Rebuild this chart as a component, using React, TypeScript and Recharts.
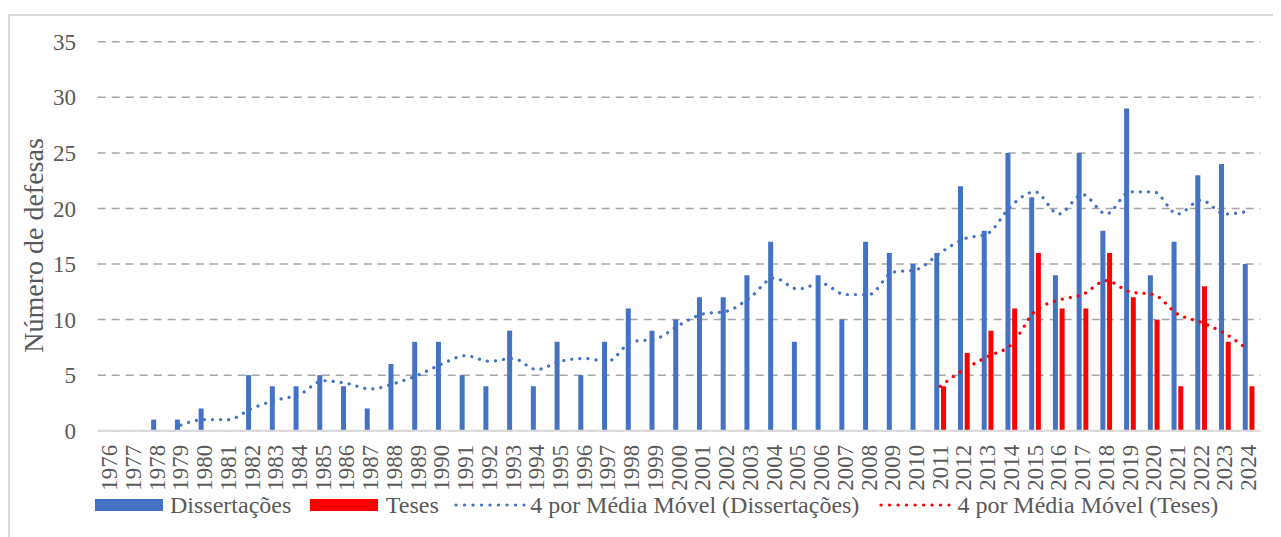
import React from 'react';
import { ComposedChart, Bar, Line, XAxis, YAxis, CartesianGrid, Label } from 'recharts';

const years = [
  '1976', '1977', '1978', '1979', '1980', '1981', '1982', '1983', '1984', '1985',
  '1986', '1987', '1988', '1989', '1990', '1991', '1992', '1993', '1994', '1995',
  '1996', '1997', '1998', '1999', '2000', '2001', '2002', '2003', '2004', '2005',
  '2006', '2007', '2008', '2009', '2010', '2011', '2012', '2013', '2014', '2015',
  '2016', '2017', '2018', '2019', '2020', '2021', '2022', '2023', '2024',
];

const dissertacoes = [
  0, 0, 1, 1, 2, 0, 5, 4, 4, 5,
  4, 2, 6, 8, 8, 5, 4, 9, 4, 8,
  5, 8, 11, 9, 10, 12, 12, 14, 17, 8,
  14, 10, 17, 16, 15, 16, 22, 18, 25, 21,
  14, 25, 18, 29, 14, 17, 23, 24, 15,
];

const teses = [
  null, null, null, null, null, null, null, null, null, null,
  null, null, null, null, null, null, null, null, null, null,
  null, null, null, null, null, null, null, null, null, null,
  null, null, null, null, null, 4, 7, 9, 11, 16,
  11, 11, 16, 12, 10, 4, 13, 8, 4,
];

const mediaMovelDissertacoes = [
  null, null, null, 0.5, 1, 1, 2, 2.75, 3.25, 4.5,
  4.25, 3.75, 4.25, 5, 6, 6.75, 6.25, 6.5, 5.5, 6.25,
  6.5, 6.25, 8, 8.25, 9.5, 10.5, 10.75, 12, 13.75, 12.75,
  13.25, 12.25, 12.25, 14.25, 14.5, 16, 17.25, 17.75, 20.25, 21.5,
  19.5, 21.25, 19.5, 21.5, 21.5, 19.5, 20.75, 19.5, 19.75,
];

const mediaMovelTeses = [
  null, null, null, null, null, null, null, null, null, null,
  null, null, null, null, null, null, null, null, null, null,
  null, null, null, null, null, null, null, null, null, null,
  null, null, null, null, null, 4, 5.5, 6.67, 7.75, 10.75,
  11.75, 12.25, 13.5, 12.5, 12.25, 10.5, 9.75, 8.75, 7.25,
];

const yTicks = [0, 5, 10, 15, 20, 25, 30, 35];

const seriesNames = [
  'Dissertações',
  'Teses',
  '4 por Média Móvel (Dissertações)',
  '4 por Média Móvel (Teses)',
];

const BLUE = '#4472C4';
const RED = '#FF0000';
const TEXT = '#595959';
const FONT = "'Liberation Serif', 'Times New Roman', serif";

const data = years.map((y, i) => ({
  year: y,
  diss: dissertacoes[i],
  teses: teses[i],
  mmDiss: mediaMovelDissertacoes[i],
  mmTeses: mediaMovelTeses[i],
}));

const XTick = (props: any) => {
  const { x, y, payload } = props;
  return (
    <text
      x={x}
      y={y}
      transform={`rotate(-90, ${x}, ${y})`}
      textAnchor="end"
      dy="0.33em"
      fill={TEXT}
      fontSize={23}
      fontFamily={FONT}
    >
      {payload.value}
    </text>
  );
};

const YTick = (props: any) => {
  const { x, y, payload } = props;
  return (
    <text x={x} y={y} textAnchor="end" dy="0.35em" fill={TEXT} fontSize={23} fontFamily={FONT}>
      {payload.value}
    </text>
  );
};

const Swatch = ({ color }: { color: string }) => (
  <div style={{ width: 68, height: 12, background: color, marginTop: 6 }} />
);

const DotSwatch = ({ color }: { color: string }) => (
  <svg width={72} height={24} style={{ display: 'block' }}>
    <line
      x1={2}
      y1={12}
      x2={70}
      y2={12}
      stroke={color}
      strokeWidth={3.2}
      strokeLinecap="round"
      strokeDasharray="0.1 8.4"
    />
  </svg>
);

const legendText: React.CSSProperties = {
  fontFamily: FONT,
  fontSize: 24,
  lineHeight: '24px',
  color: TEXT,
  whiteSpace: 'nowrap',
};

export default function App() {
  return (
    <div style={{ position: 'relative', width: 1273, height: 529, overflow: 'hidden', background: '#fff' }}>
      <div
        style={{
          position: 'absolute',
          left: 0,
          top: 6,
          width: 1400,
          height: 700,
          border: '2px solid #d9d9d9',
          boxSizing: 'border-box',
        }}
      />
      <div style={{ position: 'absolute', left: 0, top: 0 }}>
        <ComposedChart
          width={1273}
          height={529}
          data={data}
          margin={{ top: 33.8, right: 20.5, bottom: 0, left: 0 }}
          barGap={1.7}
        >
          <CartesianGrid vertical={false} stroke="#a6a6a6" strokeWidth={1.5} strokeDasharray="8 6" />
          <XAxis
            dataKey="year"
            interval={0}
            height={106.3}
            tickLine={false}
            tickSize={0}
            tickMargin={14}
            axisLine={{ stroke: '#d9d9d9', strokeWidth: 2 }}
            tick={<XTick />}
          />
          <YAxis
            width={89.7}
            domain={[0, 35]}
            ticks={yTicks}
            axisLine={false}
            tickLine={false}
            tickSize={0}
            tickMargin={21.7}
            tick={<YTick />}
          >
            <Label
              content={() => (
                <text
                  x={35.3}
                  y={237.5}
                  transform="rotate(-90, 35.3, 237.5)"
                  textAnchor="middle"
                  fill={TEXT}
                  fontSize={28}
                  fontFamily={FONT}
                >
                  Número de defesas
                </text>
              )}
            />
          </YAxis>
          <Bar dataKey="diss" name={seriesNames[0]} fill={BLUE} barSize={5} isAnimationActive={false} />
          <Bar dataKey="teses" name={seriesNames[1]} fill={RED} barSize={5} isAnimationActive={false} />
          <Line
            dataKey="mmDiss"
            name={seriesNames[2]}
            type="monotone"
            stroke={BLUE}
            strokeWidth={3.2}
            strokeLinecap="round"
            strokeDasharray="0.1 8"
            dot={false}
            activeDot={false}
            isAnimationActive={false}
          />
          <Line
            dataKey="mmTeses"
            name={seriesNames[3]}
            type="monotone"
            stroke={RED}
            strokeWidth={3.2}
            strokeLinecap="round"
            strokeDasharray="0.1 8"
            dot={false}
            activeDot={false}
            isAnimationActive={false}
          />
        </ComposedChart>
      </div>
      <div
        style={{
          position: 'absolute',
          left: 86.5,
          top: 485,
          display: 'flex',
          alignItems: 'flex-start',
        }}
      >
        <Swatch color={BLUE} />
        <span style={{ ...legendText, marginLeft: 7.5 }}>{seriesNames[0]}</span>
        <div style={{ marginLeft: 18.8 }}>
          <Swatch color={RED} />
        </div>
        <span style={{ ...legendText, marginLeft: 7.7 }}>{seriesNames[1]}</span>
        <div style={{ marginLeft: 15.7 }}>
          <DotSwatch color={BLUE} />
        </div>
        <span style={{ ...legendText, marginLeft: 3.7 }}>{seriesNames[2]}</span>
        <div style={{ marginLeft: 20 }}>
          <DotSwatch color={RED} />
        </div>
        <span style={{ ...legendText, marginLeft: 6 }}>{seriesNames[3]}</span>
      </div>
    </div>
  );
}
